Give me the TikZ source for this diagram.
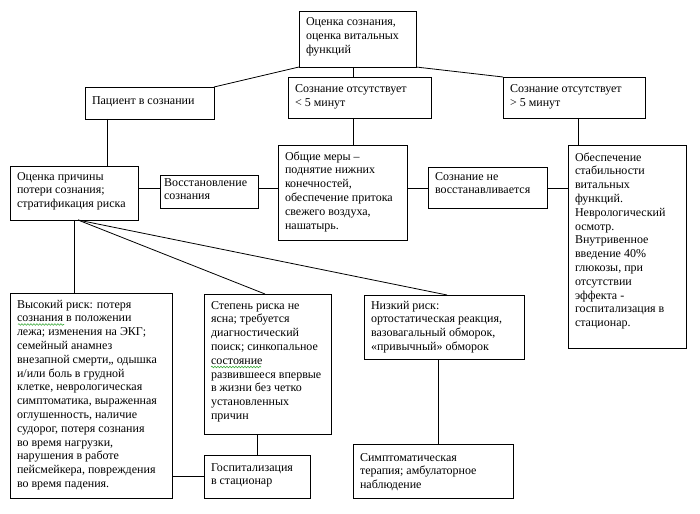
\documentclass[tikz,border=0pt]{standalone}
\usepackage{fontspec}
\setmainfont{Liberation Serif}
\usetikzlibrary{decorations.pathmorphing}
\definecolor{wavegreen}{RGB}{60,170,60}
\tikzset{
  boxst/.style={draw, line width=0.8pt, inner sep=0pt, outer sep=0pt, anchor=north west},
  conn/.style={draw, line width=0.8pt},
  wave/.style={draw=wavegreen, line width=0.6pt, decorate, decoration={snake, amplitude=0.8pt, segment length=3pt}},
  every node/.style={font=\fontsize{12pt}{13.8pt}\selectfont}
}
% name, x1, y1, x2, y2, first-baseline offset, text
\newcommand\bx[7]{%
  \node[boxst] (#1) at (#2,#3) {\begin{minipage}[b][\dimexpr#5pt-#3pt\relax][t]{\dimexpr#4pt-#2pt\relax}\parindent=0pt\rule{0pt}{#6pt}\hspace*{7pt}\begin{tabular}[t]{@{}l@{}}#7\end{tabular}\end{minipage}};}
\begin{document}
\begin{tikzpicture}[x=1pt,y=-1pt]
\fill[white] (0,0) rectangle (700,513);
\useasboundingbox (0,0) rectangle (700,513);

\bx{A}{299}{11}{416}{67}{15}{Оценка сознания,\\ оценка витальных\\ функций}
\bx{B}{85}{87}{214}{119}{18}{Пациент в сознании}
\bx{C}{288}{77}{431}{118}{16}{Сознание отсутствует\\ < 5 минут}
\bx{D}{503}{77}{645}{118}{16}{Сознание отсутствует\\ > 5 минут}
\bx{E}{10}{166}{138}{220}{14}{Оценка причины\\ потери сознания;\\ стратификация риска}
\bx{F}{160}{175}{258}{208}{11}{\hspace*{-3pt}Восстановление\\ \hspace*{-3pt}сознания}
\bx{G}{278}{145}{407}{240}{15}{Общие меры –\\ поднятие нижних\\ конечностей,\\ обеспечение притока\\ свежего воздуха,\\ нашатырь.}
\bx{H}{428}{167}{547}{208}{13}{Сознание не\\ восстанавливается}
\bx{I}{568}{145}{686}{348}{16}{Обеспечение\\ стабильности\\ витальных\\ функций.\\ Неврологический\\ осмотр.\\ Внутривенное\\ введение 40\%\\ глюкозы, при\\ отсутствии\\ эффекта -\\ госпитализация в\\ стационар.}
\bx{Hi}{10}{293}{172}{498}{15}{Высокий риск: потеря\\ сознания в положении\\ лежа; изменения на ЭКГ;\\ семейный анамнез\\ внезапной смерти,, одышка\\ и/или боль в грудной\\ клетке, неврологическая\\ симптоматика, выраженная\\ оглушенность, наличие\\ судорог, потеря сознания\\ во время нагрузки,\\ нарушения в работе\\ пейсмейкера, повреждения\\ во время падения.}
\bx{St}{204}{294}{331}{434}{15}{Степень риска не\\ ясна; требуется\\ диагностический\\ поиск; синкопальное\\ состояние\\ развившееся впервые\\ в жизни без четко\\ установленных\\ причин}
\bx{Lo}{364}{295}{524}{359}{14}{Низкий риск:\\ ортостатическая реакция,\\ вазовагальный обморок,\\ «привычный» обморок}
\bx{Ho}{204}{455}{310}{498}{16}{Госпитализация\\ в стационар}
\bx{Sy}{353}{444}{513}{498}{17}{Симптоматическая\\ терапия; амбулаторное\\ наблюдение}

% grammar-check wavy underlines
\draw[wave] ([shift={(8,31.5)}]Hi.north west) -- ([shift={(54,31.5)}]Hi.north west);
\draw[wave] ([shift={(7,73)}]St.north west) -- ([shift={(57,73)}]St.north west);

\coordinate (spine) at (353,0);
\coordinate (bx) at (107,0);
\coordinate (dx) at (578,0);
\coordinate (hy) at (0,188);
\coordinate (lx) at (438,0);
\coordinate (es) at (78,220);
\coordinate (stt) at (265,294);
\coordinate (lot) at (447,295);

\draw[conn] (A.south west) -- (B.north east);
\draw[conn] (A.south -| spine) -- (C.north -| spine);
\draw[conn] (A.south east) -- (D.north west);
\draw[conn] (B.south -| bx) -- (E.north -| bx);
\draw[conn] (C.south -| spine) -- (G.north -| spine);
\draw[conn] (D.south -| dx) -- (I.north -| dx);
\draw[conn] (E.east |- hy) -- (F.west |- hy);
\draw[conn] (F.east |- hy) -- (G.west |- hy);
\draw[conn] (G.east |- hy) -- (H.west |- hy);
\draw[conn] (H.east |- hy) -- (I.west |- hy);
\draw[conn] (E.south) -- (E.south |- Hi.north);
\draw[conn] (es) -- (stt);
\draw[conn] (es) -- (lot);
\draw[conn] (Hi.east |- Ho.west) -- (Ho.west);
\draw[conn] (Ho.north |- St.south) -- (Ho.north);
\draw[conn] (Lo.south -| lx) -- (Sy.north -| lx);
\end{tikzpicture}
\end{document}
